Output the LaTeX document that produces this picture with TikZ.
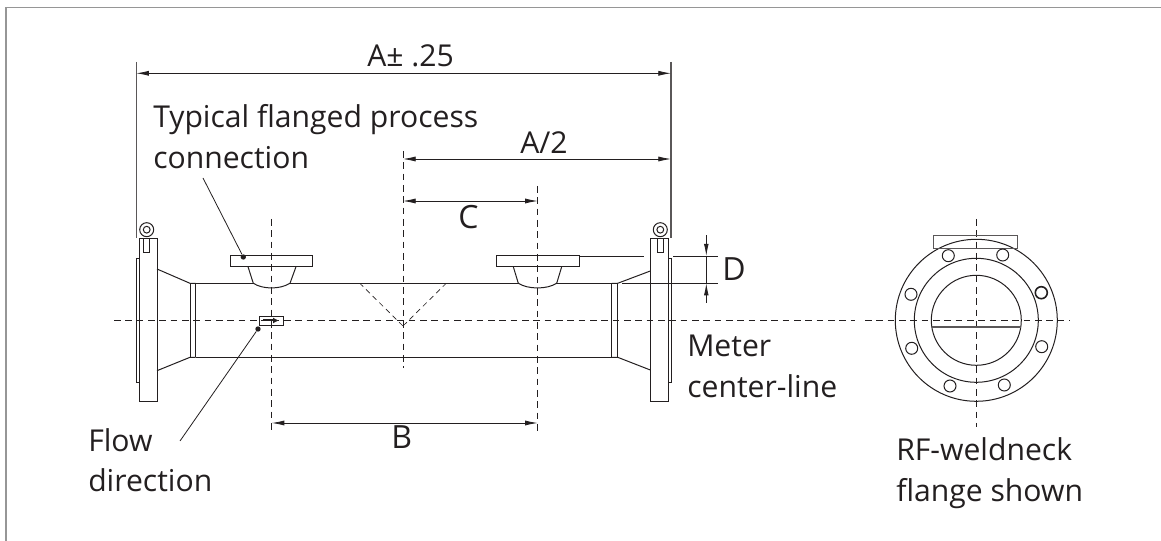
\documentclass[tikz,border=0pt]{standalone}
\usepackage{fontspec}
\setmainfont{Open Sans}
\usetikzlibrary{arrows.meta, calc}
\definecolor{framegray}{RGB}{150,150,150}
\definecolor{inkgray}{RGB}{35,31,32}
\tikzset{
  outline/.style={draw=inkgray, line width=0.75pt},
  centerline/.style={draw=inkgray, line width=0.6pt, dash pattern=on 5pt off 3.5pt},
  dimline/.style={draw=inkgray, line width=0.6pt},
  extline/.style={draw=inkgray!75, line width=0.9pt},
  dimarrow/.style={dimline, {Latex[length=9.5pt,width=3.8pt]}-{Latex[length=9.5pt,width=3.8pt]}},
  leader/.style={draw=inkgray, line width=0.6pt},
  dotmark/.style={circle, fill=inkgray, inner sep=0pt, minimum size=4pt},
  label/.style={font=\fontsize{22.6}{26}\selectfont, text=inkgray, align=left, inner sep=0pt, anchor=base west},
  biglabel/.style={label, font=\fontsize{24}{28}\selectfont}
}
\begin{document}
\begin{tikzpicture}[x=0.75pt, y=-0.75pt, >=Latex]
  \useasboundingbox (0,0) rectangle (1161,541);
  % Frame
  \draw[framegray, line width=1.1pt] (6,541) -- (6,7.7) -- (1161,7.7);

  % Center lines
  \draw[centerline] (114,320.5) -- (855,320.5);
  \draw[centerline] (865,320.5) -- (1070,320.5);
  \draw[centerline] (271.7,219) -- (271.7,432);
  \draw[centerline] (403,151) -- (403,368);
  \draw[centerline] (537.7,186) -- (537.7,432);
  \draw[centerline] (976.3,219) -- (976.3,427);

  % Left flange
  \draw[outline] (139,238.3) rectangle (157,401.3);
  \draw[outline] (139,258.7) -- (136.3,258.7) -- (136.3,383) -- (139,383);
  \draw[outline] (143.7,238.3) -- (143.7,253) -- (149.3,253) -- (149.3,238.3);
  \draw[outline] (146.7,229.7) circle (7);
  \draw[outline] (146.7,229.7) circle (3.4);
  % Left cone
  \draw[outline] (157,269) -- (190,283.3) -- (195.7,283.3);
  \draw[outline] (157,370.7) -- (190,357.3) -- (195.7,357.3);
  \draw[outline] (190,283.3) -- (190,357.3);
  \draw[outline] (195.7,283.3) -- (195.7,357.3);

  % Right flange
  \draw[outline] (650.3,238.3) rectangle (668.7,401.3);
  \draw[outline] (668.7,258.7) -- (671,258.7) -- (671,383) -- (668.7,383);
  \draw[outline] (657.7,238.3) -- (657.7,253) -- (663,253) -- (663,238.3);
  \draw[outline] (660.3,229.7) circle (7);
  \draw[outline] (660.3,229.7) circle (3.4);
  % Right cone
  \draw[outline] (650.3,271) -- (617.7,283.3) -- (611.7,283.3);
  \draw[outline] (650.3,370) -- (617.7,357.3) -- (611.7,357.3);
  \draw[outline] (611.7,283.3) -- (611.7,357.3);
  \draw[outline] (617.7,283.3) -- (617.7,357.3);

  % Pipe
  \draw[outline] (195.7,283.3) -- (253.3,283.3);
  \draw[outline] (290,283.3) -- (518.3,283.3);
  \draw[outline] (556.7,283.3) -- (611.7,283.3);
  \draw[outline] (195.7,357.3) -- (611.7,357.3);

  % Left process flange
  \draw[outline] (230.7,255.7) rectangle (312.7,266.7);
  \draw[outline] (248,266.7) -- (253.3,283.3) .. controls (263,289.5) and (280,289.5) .. (290,283.3) -- (296,266.7);
  % Right process flange
  \draw[outline] (496.3,256) rectangle (579.3,266.7);
  \draw[outline] (513.3,266.7) -- (518.3,283.3) .. controls (528,289.5) and (547,289.5) .. (556.7,283.3) -- (561.7,266.7);

  % Ports
  \draw[centerline, line width=0.5pt, dash pattern=on 4pt off 3pt] (403,326) -- (360,283.5);
  \draw[centerline, line width=0.5pt, dash pattern=on 4pt off 3pt] (403,326) -- (446,283.5);

  % Flow tag
  \draw[outline] (259.7,316.3) rectangle (283.3,325.3);
  \draw[inkgray, line width=1.5pt, -{Latex[length=4.5pt,width=4.5pt]}] (263,320.5) -- (279,320.5);

  % Extension lines
  \draw[extline] (136.3,62) -- (136.3,238);
  \draw[extline] (671,62) -- (671,238);
  \draw[dimline] (579.3,256) -- (644.3,256);
  \draw[dimline] (673.3,256) -- (718,256);
  \draw[dimline] (622,283.3) -- (718,283.3);

  % Dimensions
  \coordinate (aleft) at (136.3,73.3);
  \coordinate (aright) at (671,73.3);
  \coordinate (ahalf) at (403,159);
  \coordinate (ahalfend) at (671,159);
  \coordinate (cleft) at (403,201);
  \coordinate (cright) at (537.7,201);
  \coordinate (bleft) at (271.7,423);
  \coordinate (bright) at (537.7,423);
  \draw[dimarrow] (aleft) -- (aright);
  \draw[dimarrow] (ahalf) -- (ahalfend);
  \draw[dimarrow] (cleft) -- (cright);
  \draw[dimarrow] (bleft) -- (bright);
  \draw[dimline, {Latex[length=9pt,width=3.5pt]}-] (706.3,256) -- (706.3,235);
  \draw[dimline, {Latex[length=9pt,width=3.5pt]}-] (706.3,283.3) -- (706.3,303);
  \draw[dimline] (706.3,256) -- (706.3,283.3);

  % Leaders
  \node[dotmark] (procdot) at (243.3,257) {};
  \node[dotmark] (flowdot) at (258,329) {};
  \coordinate (procfree) at (203,178);
  \coordinate (flowfree) at (180,441);
  \draw[leader] (procdot) -- (procfree);
  \draw[leader] (flowdot) -- (flowfree);

  % Front view
  \draw[outline] (976.3,320.3) circle (81);
  \draw[outline] (976.3,320.3) circle (62);
  \draw[outline] (976.3,320.3) circle (45);
  \draw[extline, line width=1.1pt] (932.3,327) -- (1020.7,327);
  \draw[extline] (933.7,235.7) rectangle (1017.3,248.7);
  \foreach \hx/\hy in {948.3/255.7, 1002.7/255, 911/294.3, 911.7/348.3, 1041.7/346.7, 950/386, 1004.3/385}
    \draw[outline] (\hx,\hy) circle (6);
  \draw[inkgray, line width=1.2pt] (1041.3,292.7) circle (6);

  % Labels
  \node[label] (alabel) at (367,67) {A± .25};
  \node[label] (proclabel) at (153,128) {Typical flanged process};
  \node[label] (proclabel2) at (153,169) {connection};
  \node[label] (halflabel) at (520,154) {A/2};
  \node[biglabel] (clabel) at (458,229) {C};
  \node[biglabel] (dlabel) at (722,281) {D};
  \node[biglabel] (blabel) at (391,449) {B};
  \node[label] (meterlabel) at (687,357) {Meter};
  \node[label] (meterlabel2) at (687,398) {center-line};
  \node[label] (flowlabel) at (88,452) {Flow};
  \node[label] (flowlabel2) at (88,492) {direction};
  \node[label] (rflabel) at (896,461) {RF-weldneck};
  \node[label] (rflabel2) at (896,502) {flange shown};
\end{tikzpicture}
\end{document}
